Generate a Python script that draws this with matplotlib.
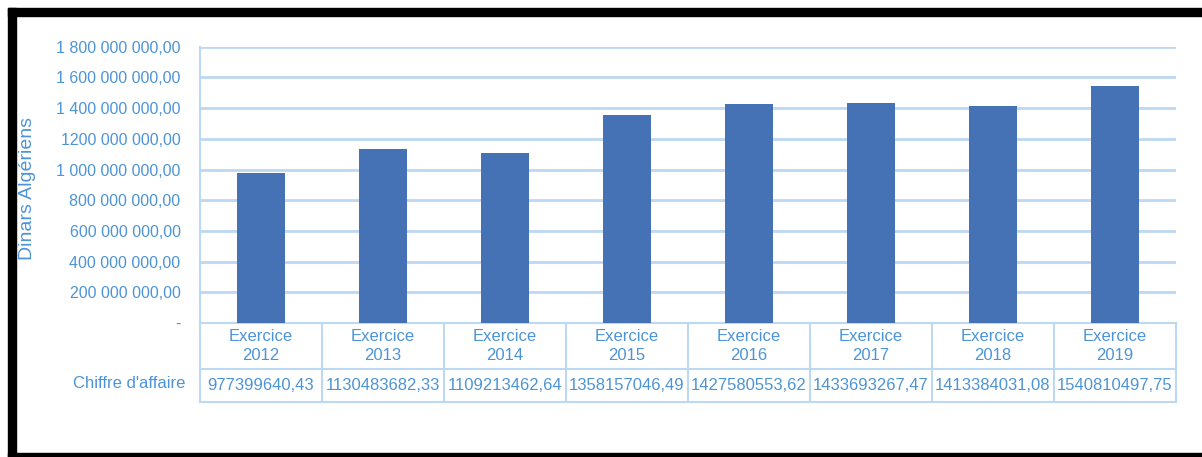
import matplotlib.pyplot as plt
from matplotlib.patches import Rectangle
from matplotlib.ticker import FuncFormatter

plt.rcParams['font.family'] = ['Liberation Sans', 'DejaVu Sans']

# data
years = ['2012', '2013', '2014', '2015', '2016', '2017', '2018', '2019']
headers = ['Exercice\n' + y for y in years]
values = [977399640.43, 1130483682.33, 1109213462.64, 1358157046.49,
          1427580553.62, 1433693267.47, 1413384031.08, 1540810497.75]
value_labels = ['977399640,43', '1130483682,33', '1109213462,64', '1358157046,49',
                '1427580553,62', '1433693267,47', '1413384031,08', '1540810497,75']
yticks = [0, 2e8, 4e8, 6e8, 8e8, 1e9, 1.2e9, 1.4e9, 1.6e9, 1.8e9]

text_col = '#4d94d6'
grid_col = '#bcd8f2'
bar_col = '#4472b4'

W, H = 1202, 457
fig = plt.figure(figsize=(W / 100, H / 100), dpi=100)

# black frame (top, left, bottom)
fig.patches.append(Rectangle((8 / W, 1 - 16 / H), 1 - 8 / W, 8 / H, transform=fig.transFigure, color='black'))
fig.patches.append(Rectangle((8 / W, 0), 8 / W, 1 - 8 / H, transform=fig.transFigure, color='black'))
fig.patches.append(Rectangle((8 / W, 0), 1 - 8 / W, 4 / H, transform=fig.transFigure, color='black'))

left, right, top, bottom = 200, 1176, 46.7, 323
ax = fig.add_axes([left / W, 1 - bottom / H, (right - left) / W, (bottom - top) / H])

x = range(len(years))
ax.bar(x, values, width=0.39, color=bar_col, zorder=3)
ax.set_xlim(-0.5, len(years) - 0.5)
ax.set_ylim(0, 1.8e9)
ax.set_yticks(yticks)


def fmt(v, pos):
    if v == 0:
        return '-'
    s = f'{int(v):,}'.replace(',', ' ')
    if s.startswith('1 2'):
        s = '1' + s[2:]
    return s + ',00'


ax.yaxis.set_major_formatter(FuncFormatter(fmt))
ax.tick_params(axis='y', length=0, pad=14, labelsize=11.5, labelcolor=text_col)
ax.set_xticks([])
ax.grid(axis='y', color=grid_col, linewidth=2, zorder=0)
for s in ['top', 'right', 'bottom']:
    ax.spines[s].set_visible(False)
ax.spines['left'].set_color(grid_col)
ax.spines['left'].set_linewidth(1.5)

fig.text(28 / W, 1 - 188 / H, 'Dinars Algériens', rotation=90, ha='center', va='center',
         fontsize=14, color=text_col)

# data table under the chart
h_axes = bottom - top
y1 = -(369 - bottom) / h_axes
y2 = -(402 - bottom) / h_axes
tr = ax.get_xaxis_transform()
for yy in [0, y1, y2]:
    ax.plot([-0.5, len(years) - 0.5], [yy, yy], transform=tr, color=grid_col, lw=1.5, clip_on=False)
for i in range(len(years) + 1):
    ax.plot([i - 0.5, i - 0.5], [0, y2], transform=tr, color=grid_col, lw=1.5, clip_on=False)
for i in x:
    ax.text(i, y1 / 2, headers[i], transform=tr, ha='center', va='center', fontsize=12,
            color=text_col, linespacing=1.4)
    ax.text(i, (y1 + y2) / 2, value_labels[i], transform=tr, ha='center', va='center',
            fontsize=12, color=text_col)
fig.text(185 / W, 1 - 383 / H, "Chiffre d'affaire", ha='right', va='center', fontsize=12, color=text_col)

fig.savefig('out.png', dpi=100, facecolor='white')
